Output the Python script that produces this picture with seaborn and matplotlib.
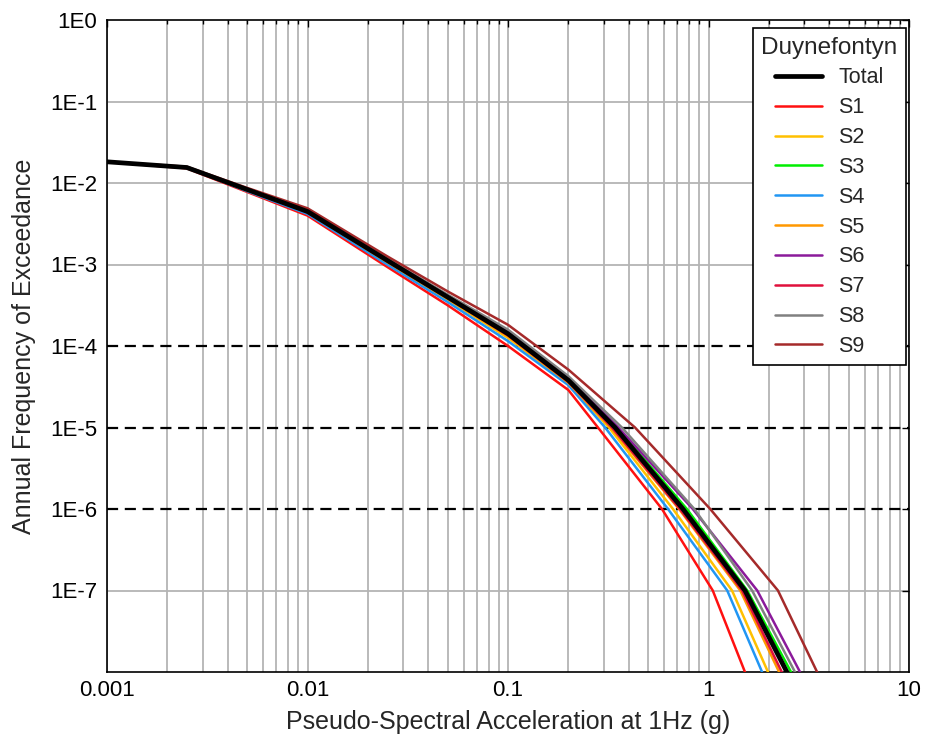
import numpy as np
import pandas as pd
import matplotlib
matplotlib.use("Agg")
import matplotlib.pyplot as plt
import matplotlib.ticker as mticker
import seaborn as sns

# ---- data ----
# Upper part: log10(AFE) at fixed accelerations (g)
x_upper = [0.001, 0.0025, 0.005, 0.01, 0.025, 0.05, 0.1, 0.2]
# Lower part: acceleration (g) at fixed AFE levels
afe_lower = [1e-5, 1e-6, 1e-7, 1e-8, 1e-9]

series = ["Total", "S1", "S2", "S3", "S4", "S5", "S6", "S7", "S8", "S9"]

logy_total = [-1.74, -1.81, -2.08, -2.35, -2.95, -3.40, -3.85, -4.42]
logy_s1 = [-1.74, -1.82, -2.11, -2.40, -3.03, -3.50, -4.00, -4.54]
logy_s2 = [-1.74, -1.81, -2.09, -2.37, -2.98, -3.43, -3.90, -4.46]
logy_s3 = [-1.74, -1.81, -2.08, -2.35, -2.95, -3.39, -3.84, -4.42]
logy_s4 = [-1.74, -1.81, -2.10, -2.38, -3.00, -3.46, -3.94, -4.48]
logy_s5 = [-1.74, -1.81, -2.09, -2.36, -2.97, -3.42, -3.88, -4.45]
logy_s6 = [-1.74, -1.81, -2.07, -2.34, -2.94, -3.38, -3.82, -4.39]
logy_s7 = [-1.74, -1.81, -2.08, -2.36, -2.96, -3.41, -3.87, -4.44]
logy_s8 = [-1.74, -1.81, -2.07, -2.33, -2.93, -3.37, -3.80, -4.37]
logy_s9 = [-1.74, -1.80, -2.06, -2.31, -2.90, -3.33, -3.74, -4.29]

x_total = [0.342, 0.746, 1.52, 2.46, 4.0]
x_s1 = [0.281, 0.586, 1.05, 1.52, 2.3]
x_s2 = [0.319, 0.665, 1.31, 1.98, 3.0]
x_s3 = [0.350, 0.780, 1.56, 2.58, 4.2]
x_s4 = [0.305, 0.628, 1.24, 1.85, 2.8]
x_s5 = [0.326, 0.713, 1.44, 2.25, 3.5]
x_s6 = [0.355, 0.835, 1.75, 2.86, 4.5]
x_s7 = [0.330, 0.720, 1.47, 2.32, 3.6]
x_s8 = [0.370, 0.850, 1.65, 2.70, 4.3]
x_s9 = [0.430, 1.020, 2.22, 3.48, 5.2]

upper = {"Total": logy_total, "S1": logy_s1, "S2": logy_s2, "S3": logy_s3,
         "S4": logy_s4, "S5": logy_s5, "S6": logy_s6, "S7": logy_s7,
         "S8": logy_s8, "S9": logy_s9}
lower = {"Total": x_total, "S1": x_s1, "S2": x_s2, "S3": x_s3, "S4": x_s4,
         "S5": x_s5, "S6": x_s6, "S7": x_s7, "S8": x_s8, "S9": x_s9}

colors = {"Total": "#000000", "S1": "#ff1010", "S2": "#ffc000",
          "S3": "#00ee00", "S4": "#2196f3", "S5": "#ff9800",
          "S6": "#8b1a9b", "S7": "#e0103c", "S8": "#808080", "S9": "#a52a2a"}

y_ticks = [1e0, 1e-1, 1e-2, 1e-3, 1e-4, 1e-5, 1e-6, 1e-7]
y_ticklabels = ["1E0", "1E-1", "1E-2", "1E-3", "1E-4", "1E-5", "1E-6", "1E-7"]
x_ticks = [0.001, 0.01, 0.1, 1, 10]
x_ticklabels = ["0.001", "0.01", "0.1", "1", "10"]
dashed_levels = [1e-4, 1e-5, 1e-6]

rows = []
for s in series:
    for xv, ly in zip(x_upper, upper[s]):
        rows.append((s, xv, 10 ** ly))
    for xv, yv in zip(lower[s], afe_lower):
        rows.append((s, xv, yv))
df = pd.DataFrame(rows, columns=["series", "x", "y"])

# ---- plot ----
sns.set_theme(style="white")
plt.rcParams["font.family"] = ["Liberation Sans", "DejaVu Sans"]

fig = plt.figure(figsize=(9.25, 7.4), dpi=100)
ax = fig.add_axes([107 / 925, 1 - 672 / 740, (909 - 107) / 925, (672 - 20) / 740])
ax.set_xscale("log")
ax.set_yscale("log")
ax.set_xlim(0.001, 10)
ax.set_ylim(1e-8, 1)

# grid
ax.grid(True, which="major", axis="x", color="#b4b4b4", lw=1.3)
ax.grid(True, which="minor", axis="x", color="#b4b4b4", lw=1.3)
for yv in [1e-1, 1e-2, 1e-3, 1e-7]:
    ax.axhline(yv, color="#b4b4b4", lw=1.3, zorder=0.5)
for yv in dashed_levels:
    ax.axhline(yv, color="black", lw=1.6, ls=(0, (5, 3)), zorder=1)

handles = {}
draw_order = ["S1", "S2", "S3", "S4", "S5", "S6", "S7", "S8", "S9", "Total"]
for s in draw_order:
    d = df[df["series"] == s]
    sns.lineplot(data=d, x="x", y="y", ax=ax, color=colors[s],
                 lw=3.4 if s == "Total" else 1.8, sort=False,
                 estimator=None, label=s, legend=False, zorder=3)
    handles[s] = ax.lines[-1]

ax.set_yticks(y_ticks)
ax.set_yticklabels(y_ticklabels)
ax.yaxis.set_minor_locator(mticker.NullLocator())
ax.set_xticks(x_ticks)
ax.set_xticklabels(x_ticklabels)
ax.xaxis.set_minor_locator(mticker.LogLocator(base=10, subs=np.arange(2, 10)))
ax.xaxis.set_minor_formatter(mticker.NullFormatter())

ax.tick_params(axis="both", which="both", direction="in", top=True, right=True,
               labelsize=16, colors="black")
ax.tick_params(axis="y", pad=7)
ax.tick_params(axis="x", pad=6)
ax.tick_params(which="major", length=5, width=1)
ax.tick_params(which="minor", length=3, width=1)
for sp in ax.spines.values():
    sp.set_color("black")
    sp.set_linewidth(1.2)

ax.set_xlabel("Pseudo-Spectral Acceleration at 1Hz (g)", fontsize=18, labelpad=6)
ax.set_ylabel("Annual Frequency of Exceedance", fontsize=18, labelpad=10)

leg = ax.legend([handles[s] for s in series], series, title="Duynefontyn",
                loc="upper right", bbox_to_anchor=((906 - 107) / 802, (672 - 28) / 652),
                fontsize=15.5, title_fontsize=17.5,
                frameon=True, fancybox=False, edgecolor="black",
                handlelength=2.2, handletextpad=0.75, labelspacing=0.41,
                borderaxespad=0.0, borderpad=0.4)
leg.get_frame().set_linewidth(1.2)
leg.get_frame().set_facecolor("white")
leg.get_frame().set_alpha(1)
leg.set_zorder(5)

fig.savefig("out.png", dpi=100, facecolor="white")
